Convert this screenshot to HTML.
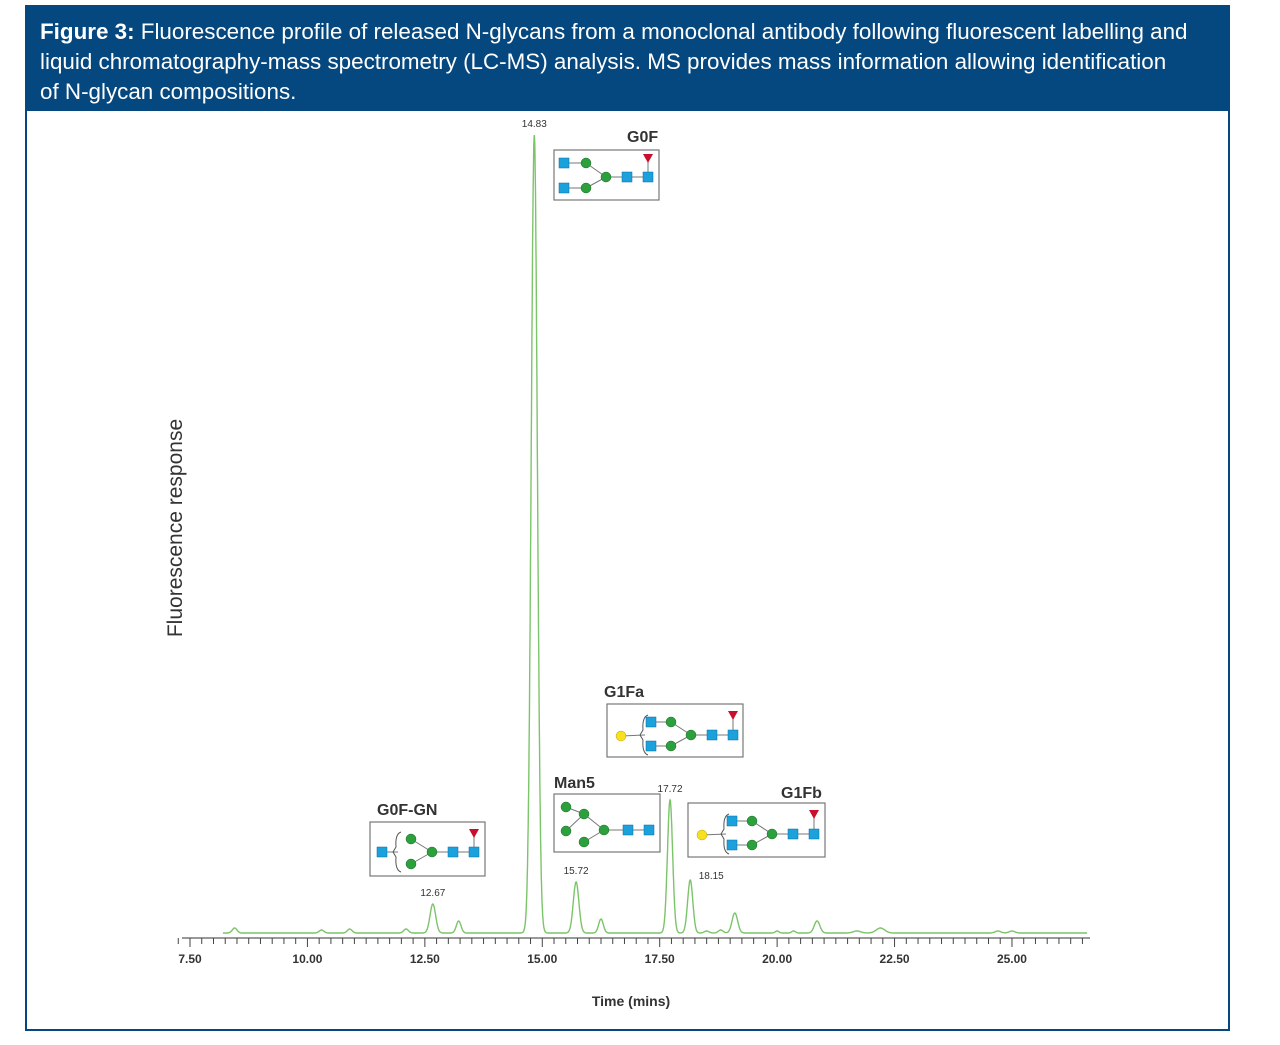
<!DOCTYPE html>
<html><head><meta charset="utf-8"><style>
body{margin:0;background:#fff;width:1280px;height:1045px;overflow:hidden;font-family:"Liberation Sans",sans-serif}
#hdr{position:absolute;left:25px;top:5px;width:1205px;height:106px;background:#05477f;color:#fff;font-size:22.4px;line-height:30px;box-sizing:border-box;padding:12px 20px 0 15px;white-space:nowrap}
#frame{position:absolute;left:25px;top:5px;width:1205px;height:1026px;border:2px solid #05477f;box-sizing:border-box}
svg{position:absolute;left:0;top:0}
</style></head><body>
<div id="frame"></div>
<div id="hdr"><b style="font-family:'Liberation Sans Narrow','Liberation Sans',sans-serif">Figure 3:</b> Fluorescence profile of released N-glycans from a monoclonal antibody following fluorescent labelling and<br>liquid chromatography-mass spectrometry (LC-MS) analysis. MS provides mass information allowing identification<br>of N-glycan compositions.</div>
<svg id="c" width="1280" height="1045"></svg>
<script>
const peakTimes=[8.45,10.3,10.9,12.1,12.67,13.22,14.83,15.72,16.25,17.72,18.15,18.5,18.8,19.1,20.0,20.35,20.85,21.7,22.2,24.7,25.0];
const peakHeights=[5,3,4,4,29,12,798,51,14,133,53,2,3,20,2,2,12,2,5,2,2];
const peakWidths=[0.05,0.05,0.05,0.05,0.06,0.05,0.065,0.06,0.05,0.055,0.055,0.05,0.05,0.06,0.04,0.04,0.06,0.08,0.09,0.06,0.06];
const labelTimes=[12.67,14.83,15.72,17.72,18.15];
const tickLabels=[7.5,10,12.5,15,17.5,20,22.5,25];
const svg=document.getElementById('c'),NS='http://www.w3.org/2000/svg';
const X=t=>190+(t-7.5)*46.97, Y=v=>933-v;
function mk(tag,a,p){const e=document.createElementNS(NS,tag);for(const k in a)e.setAttribute(k,a[k]);(p||svg).appendChild(e);return e;}
function sig(t){let s=0;for(let i=0;i<peakTimes.length;i++){const d=(t-peakTimes[i])/peakWidths[i];s+=peakHeights[i]*Math.exp(-0.5*d*d);}return s;}
const ax=mk('line',{x1:182,x2:1090,y1:938,y2:938,stroke:'#333','stroke-width':1});


for(let t=7.25;t<=26.6;t+=0.25){const maj=Math.abs(t/2.5-Math.round(t/2.5))<1e-6;const tk=mk('line',{x1:X(t),x2:X(t),y1:938,y2:maj?947:944,stroke:'#444','stroke-width':1});

}
tickLabels.forEach(v=>{const e=mk('text',{x:X(v),y:963,'text-anchor':'middle','font-size':12,'font-weight':'bold',fill:'#333'});e.textContent=v.toFixed(2);

});
const xt=mk('text',{x:631,y:1006,'text-anchor':'middle','font-size':14,'font-weight':'bold',fill:'#333'});xt.textContent='Time (mins)';


const yt=mk('text',{x:0,y:0,transform:'translate(182,528) rotate(-90)','text-anchor':'middle','font-size':21,fill:'#333'});yt.textContent='Fluorescence response';


let d='';for(let t=8.2;t<=26.6;t+=0.005){d+=(d?'L':'M')+X(t).toFixed(1)+','+Y(sig(t)).toFixed(1);}
const tr=mk('path',{d:d,fill:'none',stroke:'#7cc46a','stroke-width':1.4});


labelTimes.forEach(t=>{const e=mk('text',{x:X(t)+(t==18.15?21:0),y:Y(sig(t))-(t==18.15?1:8),'text-anchor':'middle','font-size':10,fill:'#333'});e.textContent=t.toFixed(2);

});
function glycan(name,lbl,lx,ly,bx,by,bw,bh,nodes,links){
 const g=mk('g',{});
 
 
 const t=mk('text',{x:lx,y:ly,'font-size':16,'font-weight':'bold',fill:'#333'},g);t.textContent=lbl;
 mk('rect',{x:bx,y:by,width:bw,height:bh,fill:'#fff',stroke:'#777','stroke-width':1.2},g);
 links.forEach(([a,b])=>mk('line',{x1:bx+nodes[a][1],y1:by+nodes[a][2],x2:bx+nodes[b][1],y2:by+nodes[b][2],stroke:'#777','stroke-width':1},g));
 nodes.forEach(([k,x,y])=>{x+=bx;y+=by;
  if(k=='s')mk('rect',{x:x-5,y:y-5,width:10,height:10,fill:'#1ba1dc',stroke:'#0a6fa0','stroke-width':.5},g);
  else if(k=='c')mk('circle',{cx:x,cy:y,r:5,fill:'#2ca03c',stroke:'#1a6b25','stroke-width':.5},g);
  else if(k=='y')mk('circle',{cx:x,cy:y,r:5,fill:'#f7e020',stroke:'#b9a400','stroke-width':.5},g);
  else if(k=='t')mk('path',{d:`M${x-5},${y-4}L${x+5},${y-4}L${x},${y+5}Z`,fill:'#c8102e'},g);
  else if(k=='b')mk('path',{d:`M${x+3},${y-20}Q${x-3},${y-18} ${x-2},${y-5}L${x-5},${y}L${x-2},${y+5}Q${x-3},${y+18} ${x+3},${y+20}`,fill:'none',stroke:'#555'},g);
 });
}
const core=(o)=>[['s',o+10,13],['s',o+10,38],['c',o+32,13],['c',o+32,38],['c',o+52,27],['s',o+73,27],['s',o+94,27],['t',o+94,8]];
const coreL=[[0,2],[1,3],[2,4],[3,4],[4,5],[5,6],[6,7]];
glycan('glycan-g0f','G0F',627,142,554,150,105,50,core(0),coreL);
glycan('glycan-g0f-gn','G0F-GN',377,815,370,822,115,54,[['s',12,30],['b',28,30],['c',41,17],['c',41,42],['c',62,30],['s',83,30],['s',104,30],['t',104,11]],[[0,1],[2,4],[3,4],[4,5],[5,6],[6,7]]);
glycan('glycan-man5','Man5',554,788,554,794,106,58,[['c',12,13],['c',12,37],['c',30,20],['c',30,48],['c',50,36],['s',74,36],['s',95,36]],[[0,2],[1,2],[2,4],[3,4],[4,5],[5,6]]);
const g1=[['y',14,32],['b',38,31],['s',44,18],['s',44,42],['c',64,18],['c',64,42],['c',84,31],['s',105,31],['s',126,31],['t',126,11]];
const g1L=[[0,1],[2,4],[3,5],[4,6],[5,6],[6,7],[7,8],[8,9]];
glycan('glycan-g1fa','G1Fa',604,697,607,704,136,53,g1,g1L);
glycan('glycan-g1fb','G1Fb',781,798,688,803,137,54,g1,g1L);
</script>
</body></html>
